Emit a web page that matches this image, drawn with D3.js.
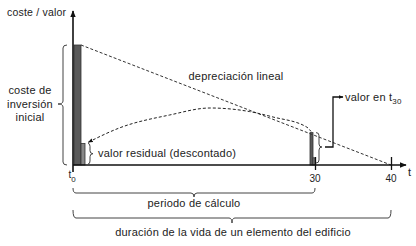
<!DOCTYPE html>
<html><head><meta charset="utf-8">
<script src="https://cdn.jsdelivr.net/npm/d3@7"></script>
<style>
body{margin:0;background:#fff;}
text{font-family:"Liberation Sans",Arial,sans-serif;fill:#222;}
</style></head>
<body><svg id="c" width="416" height="246"></svg>
<script>
// ---- data ----
const tickYears = [0, 30, 40];
const tickLabels = ["t", "30", "40"];
const tickSubs = ["0", "", ""];
const initialCost = 100;          // coste de inversión inicial (t0)
const residualT0 = 18;            // valor residual descontado (t0)
const valueT30 = 27;              // valor en t30
const residualT30 = 6;            // residual part at t30
const deprecYears = [0, 40];
const deprecValues = [100, 0];
const curveYears = [1.9, 5.8, 12.0, 17.0, 21.9, 24.8, 29.0, 29.5];
const curveValues = [19, 31, 41.7, 47.5, 44.5, 40, 31.5, 28];
const labels = {
  yTitle: "coste / valor", xTitle: "t",
  inv: ["coste de", "inversión", "inicial"],
  dep: "depreciación lineal",
  res: "valor residual (descontado)",
  t30a: "valor en t", t30b: "30",
  per: "periodo de cálculo",
  dur: "duración de la vida de un elemento del edificio"
};

// ---- scales ----
const x = d3.scaleLinear().domain([0, 30, 40]).range([73, 315, 391]);
const y = d3.scaleLinear().domain([0, 100]).range([165, 45]);
const svg = d3.select("#c");

const defs = svg.append("defs");
defs.append("marker").attr("id","ah").attr("viewBox","0 0 10 10").attr("refX",9).attr("refY",5)
  .attr("markerWidth",7).attr("markerHeight",7).attr("orient","auto-start-reverse").attr("markerUnits","userSpaceOnUse")
  .append("path").attr("d","M0,1 L10,5 L0,9 z").attr("fill","#111");
defs.append("marker").attr("id","ahs").attr("viewBox","0 0 10 10").attr("refX",9).attr("refY",5)
  .attr("markerWidth",5).attr("markerHeight",5).attr("orient","auto-start-reverse").attr("markerUnits","userSpaceOnUse")
  .append("path").attr("d","M0,1 L10,5 L0,9 z").attr("fill","#111");

// bars
const bars = [
  {t:0, v:initialCost, x0:1, x1:8, fill:"#5a5a5a"},
  {t:0, v:residualT0, x0:8, x1:12, fill:"#888"},
  {t:30, v:valueT30, x0:-5, x1:-2, fill:"#5a5a5a"},
  {t:30, v:residualT30, x0:-2, x1:0, fill:"#888"}
];
svg.selectAll("rect.bar").data(bars).join("rect").attr("class","bar")
  .attr("x", d => x(d.t) + d.x0).attr("width", d => d.x1 - d.x0)
  .attr("y", d => y(d.v)).attr("height", d => y(0) - y(d.v))
  .attr("fill", d => d.fill).attr("stroke","#333").attr("stroke-width",0.8);

// depreciation line
svg.append("path")
  .attr("d", d3.line().x((d,i)=> x(d) + (i===0?8:0)).y((d,i)=> y(deprecValues[i]))(deprecYears))
  .attr("fill","none").attr("stroke","#333").attr("stroke-width",1).attr("stroke-dasharray","3,2");

// discounted curve
svg.append("path")
  .attr("d", d3.line().curve(d3.curveMonotoneX).x(d=>x(d)).y((d,i)=>y(curveValues[i]))(curveYears))
  .attr("fill","none").attr("stroke","#222").attr("stroke-width",1).attr("stroke-dasharray","3,2")
  .attr("marker-start","url(#ahs)");

// axes
svg.append("line").attr("x1",x(0)).attr("x2",x(0)).attr("y1",172).attr("y2",11)
  .attr("stroke","#111").attr("stroke-width",1.6).attr("marker-end","url(#ah)");
svg.append("line").attr("x1",x(0)).attr("x2",406).attr("y1",y(0)).attr("y2",y(0))
  .attr("stroke","#111").attr("stroke-width",1.6).attr("marker-end","url(#ah)");

const xa = svg.append("g").attr("transform",`translate(0,${y(0)})`)
  .call(d3.axisBottom(x).tickValues(tickYears.slice(1)).tickSize(5).tickFormat(""));
xa.select(".domain").remove();
xa.selectAll(".tick line").attr("y1",-8).attr("stroke","#111").attr("stroke-width",1.3);

const tl = svg.selectAll("text.tl").data(tickYears).join("text").attr("class","tl")
  .attr("x", (d,i)=> x(d) + (i===0?-1:0)).attr("y", (d,i)=> i===0?178:182)
  .attr("text-anchor","middle").attr("font-size",10);
tl.append("tspan").text((d,i)=>tickLabels[i]);
tl.append("tspan").attr("dy",4).attr("font-size",8).text((d,i)=>tickSubs[i]);

svg.append("text").attr("x",408).attr("y",176).attr("font-size",11).text(labels.xTitle);
svg.append("text").attr("x",7).attr("y",16).attr("font-size",10.5).attr("letter-spacing",0.2).text(labels.yTitle);

// text labels
const ls = 0.2;
svg.selectAll("text.inv").data(labels.inv).join("text").attr("class","inv")
  .attr("x",30).attr("y",(d,i)=>94+i*13.5).attr("text-anchor","middle").attr("font-size",11).attr("letter-spacing",ls).text(d=>d);
svg.append("text").attr("x",236).attr("y",80).attr("text-anchor","middle").attr("font-size",11).attr("letter-spacing",ls).text(labels.dep);
svg.append("text").attr("x",98).attr("y",157).attr("font-size",11).attr("letter-spacing",ls).text(labels.res);
const t30 = svg.append("text").attr("x",345).attr("y",101).attr("font-size",11).attr("letter-spacing",ls);
t30.append("tspan").text(labels.t30a);
t30.append("tspan").attr("dy",3).attr("font-size",8).text(labels.t30b);
svg.append("text").attr("x",194).attr("y",207).attr("text-anchor","middle").attr("font-size",11).attr("letter-spacing",ls).text(labels.per);
svg.append("text").attr("x",233).attr("y",236).attr("text-anchor","middle").attr("font-size",11).attr("letter-spacing",ls).text(labels.dur);

// braces
function braceH(x1, x2, yy, h, tip){
  const xm = (x1+x2)/2 + 0, r = 3;
  return `M${x1},${yy-h} Q${x1},${yy} ${x1+r},${yy} L${xm-r},${yy} Q${xm},${yy} ${xm},${yy+tip} Q${xm},${yy} ${xm+r},${yy} L${x2-r},${yy} Q${x2},${yy} ${x2},${yy-h}`;
}
function braceV(xx, y1, y2, w, tip, ym){
  ym = ym === undefined ? (y1+y2)/2 : ym;
  const r = 3;
  return `M${xx+w},${y1} Q${xx},${y1} ${xx},${y1+r} L${xx},${ym-r} Q${xx},${ym} ${xx+tip},${ym} Q${xx},${ym} ${xx},${ym+r} L${xx},${y2-r} Q${xx},${y2} ${xx+w},${y2}`;
}
const bStyle = s => s.attr("fill","none").attr("stroke","#444").attr("stroke-width",1);
svg.append("path").attr("d", braceH(x(0), x(30), 193, 5, 4)).call(bStyle);
svg.append("path").attr("d", braceH(x(0), x(40), 218, 8, 5)).call(bStyle);
svg.append("path").attr("d", braceV(63, y(initialCost), y(0), 4, -5, 104)).call(bStyle);
svg.append("path").attr("d", braceV(90, y(residualT0), y(0)-1, -2, 3)).call(bStyle);
svg.append("path").attr("d", braceV(319, y(valueT30), y(0)-2, -3, 3, 147)).call(bStyle);

// connector to "valor en t30"
svg.append("path").attr("d","M325,147 L333,147 L333,97 L343,97")
  .attr("fill","none").attr("stroke","#111").attr("stroke-width",1.3).attr("marker-end","url(#ahs)");
</script></body></html>
